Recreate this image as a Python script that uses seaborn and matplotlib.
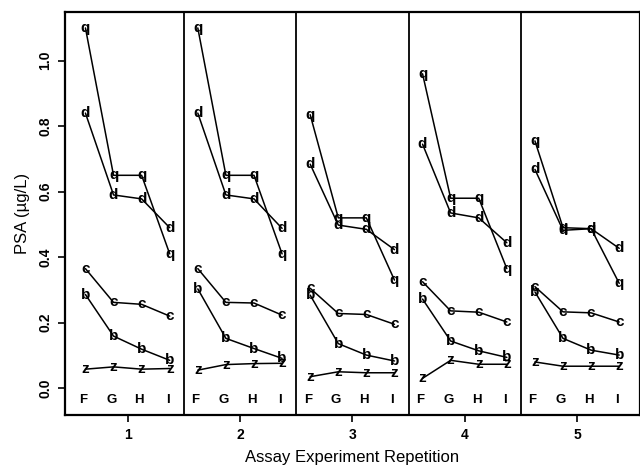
import numpy as np
import pandas as pd
import matplotlib
matplotlib.use("Agg")
import matplotlib.pyplot as plt
import seaborn as sns

# -------------------------
# DATA
# -------------------------
repetitions = [1, 2, 3, 4, 5]
conditions = ["F", "G", "H", "I"]
cond_offset = [-0.375, -0.125, 0.125, 0.375]

# one list per sample letter, 4 conditions x 5 repetitions
q_vals = [1.10, 0.65, 0.65, 0.41,
          1.10, 0.65, 0.65, 0.41,
          0.835, 0.52, 0.52, 0.33,
          0.96, 0.58, 0.58, 0.365,
          0.755, 0.49, 0.487, 0.32]
d_vals = [0.84, 0.59, 0.578, 0.49,
          0.84, 0.59, 0.578, 0.488,
          0.684, 0.498, 0.485, 0.423,
          0.745, 0.535, 0.52, 0.444,
          0.668, 0.482, 0.487, 0.427]
c_vals = [0.365, 0.262, 0.256, 0.22,
          0.365, 0.262, 0.26, 0.223,
          0.305, 0.228, 0.225, 0.195,
          0.325, 0.236, 0.232, 0.202,
          0.31, 0.233, 0.23, 0.202]
b_vals = [0.286, 0.159, 0.119, 0.085,
          0.303, 0.152, 0.121, 0.091,
          0.284, 0.136, 0.101, 0.083,
          0.272, 0.144, 0.114, 0.094,
          0.294, 0.152, 0.116, 0.101]
z_vals = [0.058, 0.065, 0.058, 0.06,
          0.055, 0.072, 0.075, 0.076,
          0.035, 0.05, 0.047, 0.047,
          0.03, 0.085, 0.073, 0.073,
          0.08, 0.067, 0.067, 0.067]

samples = {"q": q_vals, "d": d_vals, "c": c_vals, "b": b_vals, "z": z_vals}

rows = []
for letter, vals in samples.items():
    k = 0
    for rep in repetitions:
        for cond, off in zip(conditions, cond_offset):
            rows.append({"sample": letter, "rep": rep, "cond": cond,
                         "x": rep + off, "psa": vals[k]})
            k += 1
df = pd.DataFrame(rows)
df["unit"] = df["sample"] + df["rep"].astype(str)

# -------------------------
# PLOT
# -------------------------
sns.set_style("white")
plt.rcParams["font.family"] = ["Liberation Sans", "DejaVu Sans"]
plt.rcParams["text.color"] = "black"
plt.rcParams["axes.labelcolor"] = "black"

fig = plt.figure(figsize=(6.4, 4.7), dpi=100)
ax = fig.add_axes([0.101, 0.117, 0.899, 0.857])

sns.lineplot(data=df, x="x", y="psa", units="unit", estimator=None,
             color="black", lw=1.1, sort=False, ax=ax, legend=False)

for _, r in df.iterrows():
    ax.text(r["x"], r["psa"], r["sample"], ha="center", va="center",
            fontsize=11, fontweight="bold", color="black")

# condition letters along the bottom of each panel
for rep in repetitions:
    for cond, off in zip(conditions, cond_offset):
        ax.text(rep + off - 0.02, -0.036, cond, ha="center", va="center",
                fontsize=9.5, fontweight="bold")

# panel separators
for sep in [1.5, 2.5, 3.5, 4.5]:
    ax.axvline(sep, color="black", lw=1.3)

ax.set_xlim(0.44, 5.56)
ax.set_ylim(-0.082, 1.148)
ax.set_xticks(repetitions)
ax.set_xticklabels([str(r) for r in repetitions], fontsize=10, fontweight="bold")
ax.set_yticks([0.0, 0.2, 0.4, 0.6, 0.8, 1.0])
ax.set_yticklabels(["0.0", "0.2", "0.4", "0.6", "0.8", "1.0"],
                   rotation=90, va="center", fontsize=10, fontweight="bold")
ax.tick_params(axis="both", direction="out", length=5, width=1.2,
               left=True, bottom=True, pad=4, colors="black")

for s in ax.spines.values():
    s.set_color("black")
    s.set_linewidth(1.6)

ax.set_xlabel("Assay Experiment Repetition", fontsize=12, labelpad=6)
ax.set_ylabel("PSA (\u00b5g/L)", fontsize=12, labelpad=6)

fig.savefig("out.png", dpi=100)
